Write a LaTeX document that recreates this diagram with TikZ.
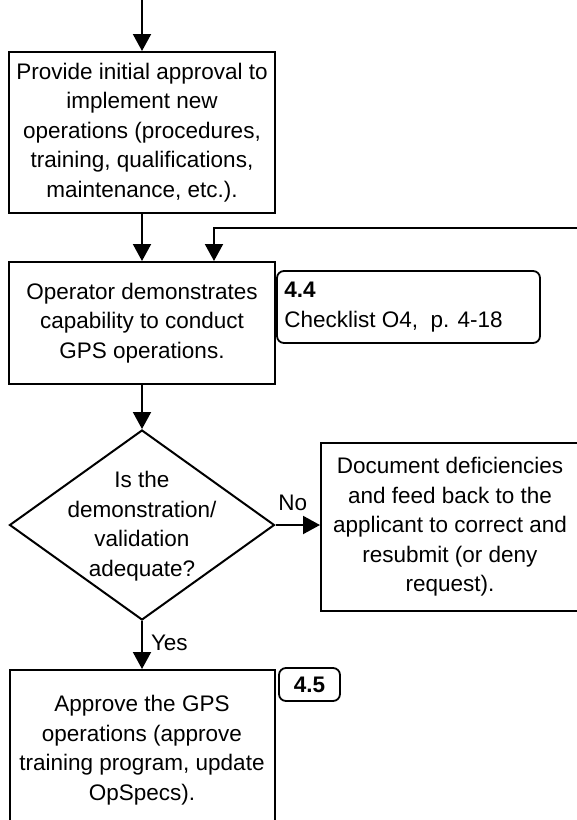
\documentclass[tikz,border=0pt]{standalone}
\usepackage{fontspec}
\setmainfont{Liberation Sans}
\usetikzlibrary{arrows.meta,shapes.geometric}
\begin{document}
\begin{tikzpicture}[x=1pt,y=-1pt,
  every node/.style={font=\fontsize{22.5}{29.5}\selectfont},
  procbox/.style={draw,line width=2pt,rectangle,align=center,inner sep=0pt},
  refbox/.style={draw,line width=1.8pt,rectangle,rounded corners=7pt,inner sep=0pt},
  decision/.style={draw,line width=2pt,diamond,inner sep=0pt,minimum width=265pt,minimum height=190pt},
  arr/.style={line width=2pt,-{Triangle[width=18pt,length=17pt]}},
  lbl/.style={inner sep=0pt}]
\useasboundingbox (0,0) rectangle (577,820);
\node[procbox,minimum width=266pt,minimum height=161pt] (b1) at (142,132.5)
  {Provide initial approval to\\implement new\\operations (procedures,\\training, qualifications,\\maintenance, etc.).};
\node[procbox,minimum width=266pt,minimum height=122pt] (b2) at (142,323)
  {Operator demonstrates\\capability to conduct\\GPS operations.};
\node[refbox,minimum width=263pt,minimum height=72pt] (c44) at (408.5,307) {};
\node[lbl,anchor=west,align=left] (c44t) at ([xshift=8pt]c44.west)
  {\textbf{4.4}\\Checklist O4,\ \ p. 4-18};
\node[decision] (d) at (142,525) {};
\node[lbl,align=center] (dt) at ([yshift=-1pt]d.center)
  {Is the\\demonstration/\\validation\\adequate?};
\node[procbox,minimum width=258pt,minimum height=168pt] (b3) at (450,527)
  {Document deficiencies\\and feed back to the\\applicant to correct and\\resubmit (or deny\\request).};
\node[procbox,minimum width=265pt,minimum height=160pt] (b4) at (142,750)
  {Approve the GPS\\operations (approve\\training program, update\\OpSpecs).};
\node[refbox,minimum width=61pt,minimum height=33pt] (c45) at (309.5,684.5) {\textbf{4.5}};
\coordinate (top) at (142,0);
\coordinate (fb) at (585,228);
\draw[arr] (top) -- (b1.north);
\draw[arr] (b1.south) -- (b2.north);
\draw[arr] (fb) -| ([xshift=72pt]b2.north);
\draw[arr] (b2.south) -- (d.north);
\draw[arr] (d.east) -- (d.east -| b3.west) node[lbl,midway,above=13pt,xshift=-5pt] (no) {No};
\draw[arr] (d.south) -- (b4.north) node[lbl,pos=0.45,right=8pt] (yes) {Yes};
\end{tikzpicture}
\end{document}
